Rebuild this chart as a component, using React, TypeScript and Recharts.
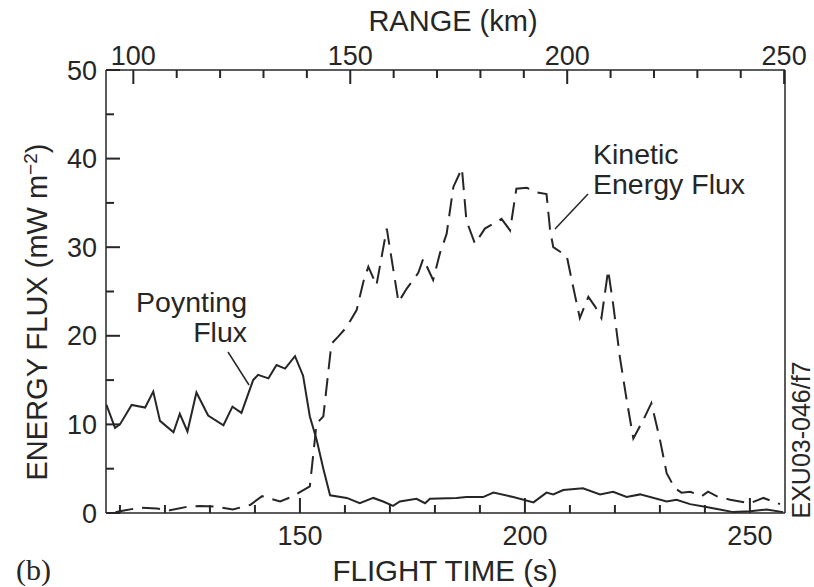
import * as React from 'react';
import { LineChart, Line, XAxis, YAxis, ReferenceLine } from 'recharts';

// Poynting flux (solid trace), flight time in s vs mW m^-2
const poyntingTime = [
  107, 108.9, 110, 112.6, 115.6, 117.4, 118.9, 121.9, 123.3, 125, 127, 129.6, 133, 135, 137,
  139.6, 140.7, 143, 144.8, 146.7, 148.9, 150.7, 152.2, 153.7, 155.2, 156.7, 160.4, 163.3,
  166.3, 168.5, 170.7, 172.2, 175.9, 177.8, 178.9, 184.8, 187, 190.7, 193, 197.4, 201.9,
  204.8, 206.3, 208.5, 212.9, 216.7, 219.6, 222.6, 225.6, 231.5, 233.7, 236.7, 240, 243.3,
  246.3, 250, 253.7, 257.4,
];
const poyntingFlux = [
  12.2, 9.6, 10.0, 12.2, 11.9, 13.7, 10.4, 9.1, 11.2, 9.2, 13.6, 11.0, 9.9, 12.0, 11.3,
  15.0, 15.6, 15.2, 16.7, 16.3, 17.7, 15.5, 10.9, 8.3, 5.0, 2.0, 1.7, 1.1,
  1.7, 1.3, 0.8, 1.3, 1.6, 1.1, 1.6, 1.7, 1.8, 1.8, 2.3, 1.8, 1.2,
  2.3, 2.1, 2.6, 2.8, 2.1, 2.4, 1.8, 2.1, 1.3, 1.5, 1.0, 0.7, 0.4,
  0.1, 0.2, 0.4, 0.1,
];

// Kinetic energy flux (dashed trace)
const kineticTime = [
  109, 110, 114.4, 118.2, 121.1, 124.9, 127.8, 131.6, 135.1, 138.9, 141.6, 145.6, 148.5,
  152.2, 153.7, 155.2, 157, 158.5, 160.4, 162.6, 164.1, 165.2, 167, 169.3, 171.9, 173.7,
  176.3, 177.4, 179.6, 181.1, 182.6, 184.1, 186, 187, 188.9, 191.1, 194.8, 196.7, 198.1,
  200.4, 202.6, 204.8, 205.6, 206.3, 209.3, 210.4, 212.2, 214.1, 215.6, 217, 218.5, 219.6,
  221.1, 222.6, 224.1, 226.3, 228.1, 230, 231.5, 233.3, 234.8, 236.7, 239.3, 240.7, 242.6,
  245.6, 250, 253, 256.7,
];
const kineticFlux = [
  0.1, 0.2, 0.6, 0.5, 0.3, 0.7, 0.8, 0.7, 0.4, 0.9, 1.9, 1.3, 1.9,
  3.0, 10.1, 10.9, 19.1, 19.9, 21.0, 22.9, 26.1, 27.8, 25.7, 32.1, 23.8, 25.3,
  27.1, 28.7, 26.3, 29.3, 31.5, 36.8, 38.9, 33.0, 30.4, 32.1, 33.2, 31.9, 36.6,
  36.7, 36.2, 36.0, 31.9, 30.0, 29.0, 26.3, 22.0, 24.4, 23.3, 22.0, 27.4, 23.6,
  17.6, 12.8, 8.4, 10.5, 12.4, 8.3, 4.5, 2.8, 2.3, 2.4, 1.9, 2.4, 1.9,
  1.5, 1.1, 1.7, 1.0,
];

const timeTicks = [110, 120, 130, 140, 150, 160, 170, 180, 190, 200, 210, 220, 230, 240, 250];
const timeLabels = [150, 200, 250];
const rangeTicks = [100, 110, 120, 130, 140, 150, 160, 170, 180, 190, 200, 210, 220, 230, 240, 250];
const rangeLabels = [100, 150, 200, 250];
const fluxTicks = [0, 5, 10, 15, 20, 25, 30, 35, 40, 45, 50];
const fluxLabels = [0, 10, 20, 30, 40, 50];

const poynting = poyntingTime.map((t, i) => ({ t, v: poyntingFlux[i] }));
const kinetic = kineticTime.map((t, i) => ({ t, v: kineticFlux[i] }));
// invisible series so the range axis and the right frame get a scale
const rangeAnchor = rangeTicks.map((t) => ({ t, v: 0 }));

const TIME_DOMAIN: [number, number] = [106.9, 257.8];
const RANGE_DOMAIN: [number, number] = [93.7, 250.2];
const FLUX_DOMAIN: [number, number] = [0, 50];

// chart box
const W = 814;
const H = 587;
const MARGIN = { top: 40, right: 28, bottom: 44, left: 46 };
const PLOT_W = W - MARGIN.left - MARGIN.right - 60 - 1;
const PLOT_H = H - MARGIN.top - MARGIN.bottom - 30 - 30;

// inward tick lengths (px) expressed in axis units
const secPerPx = (TIME_DOMAIN[1] - TIME_DOMAIN[0]) / PLOT_W;
const fluxPerPx = (FLUX_DOMAIN[1] - FLUX_DOMAIN[0]) / PLOT_H;
const MAJOR = 14;
const MINOR = 8;

const INK = '#262626';
const FONT = '"Liberation Sans", Arial, Helvetica, sans-serif';
const TICK_FONT = 27;
const TITLE_FONT = 29;
const NOTE_FONT = 28.5;

const axisStroke = { stroke: INK, strokeWidth: 1.5 };
const tickStroke = { stroke: INK, strokeWidth: 2 };

function BottomLabel(props: any) {
  const { x, y, payload } = props;
  if (!timeLabels.includes(payload.value)) return <g />;
  return (
    <text x={x} y={y + 32} textAnchor="middle" fontFamily={FONT} fontSize={TICK_FONT} fill={INK}>
      {payload.value}
    </text>
  );
}

function TopLabel(props: any) {
  const { x, y, payload } = props;
  if (!rangeLabels.includes(payload.value)) return <g />;
  return (
    <text x={x} y={y - 5} textAnchor="middle" fontFamily={FONT} fontSize={TICK_FONT} fill={INK}>
      {payload.value}
    </text>
  );
}

function LeftLabel(props: any) {
  const { x, y, payload } = props;
  if (!fluxLabels.includes(payload.value)) return <g />;
  return (
    <text x={x - 9} y={y + 9.5} textAnchor="end" fontFamily={FONT} fontSize={TICK_FONT} fill={INK}>
      {payload.value}
    </text>
  );
}

const txt = { fontFamily: FONT, fill: INK };

export default function App() {
  return (
    <div style={{ position: 'absolute', left: 0, top: 0, width: W, height: H, background: '#fff' }}>
      <LineChart width={W} height={H} margin={MARGIN}>
        <XAxis
          xAxisId="time"
          dataKey="t"
          type="number"
          domain={TIME_DOMAIN}
          allowDataOverflow
          ticks={timeTicks}
          interval={0}
          height={30}
          tickSize={0}
          tickMargin={0}
          tickLine={false}
          tick={<BottomLabel />}
          axisLine={axisStroke}
        />
        <XAxis
          xAxisId="range"
          dataKey="t"
          orientation="top"
          type="number"
          domain={RANGE_DOMAIN}
          allowDataOverflow
          ticks={rangeTicks}
          interval={0}
          height={30}
          tickSize={0}
          tickMargin={0}
          tickLine={false}
          tick={<TopLabel />}
          axisLine={axisStroke}
        />
        <YAxis
          yAxisId="flux"
          type="number"
          domain={FLUX_DOMAIN}
          ticks={fluxTicks}
          interval={0}
          width={60}
          tickSize={0}
          tickMargin={0}
          tickLine={false}
          tick={<LeftLabel />}
          axisLine={axisStroke}
        />
        <YAxis
          yAxisId="frame"
          orientation="right"
          type="number"
          domain={FLUX_DOMAIN}
          width={1}
          tick={false}
          tickLine={false}
          axisLine={axisStroke}
        />

        {/* inward tick marks */}
        {timeTicks.map((t) => (
          <ReferenceLine
            key={`bt${t}`}
            xAxisId="time"
            yAxisId="flux"
            ifOverflow="visible"
            segment={[
              { x: t, y: FLUX_DOMAIN[0] },
              { x: t, y: FLUX_DOMAIN[0] + (timeLabels.includes(t) ? MAJOR + 1 : MINOR) * fluxPerPx },
            ]}
            {...tickStroke}
          />
        ))}
        {rangeTicks.map((r) => (
          <ReferenceLine
            key={`tt${r}`}
            xAxisId="range"
            yAxisId="frame"
            ifOverflow="visible"
            segment={[
              { x: r, y: FLUX_DOMAIN[1] },
              { x: r, y: FLUX_DOMAIN[1] - (rangeLabels.includes(r) ? MAJOR : MINOR) * fluxPerPx },
            ]}
            {...tickStroke}
          />
        ))}
        {fluxTicks.map((f) => (
          <ReferenceLine
            key={`lt${f}`}
            xAxisId="time"
            yAxisId="flux"
            ifOverflow="visible"
            segment={[
              { x: TIME_DOMAIN[0], y: f },
              { x: TIME_DOMAIN[0] + (fluxLabels.includes(f) ? MAJOR : MINOR) * secPerPx, y: f },
            ]}
            {...tickStroke}
          />
        ))}

        <Line
          xAxisId="range"
          yAxisId="frame"
          data={rangeAnchor}
          dataKey="v"
          stroke="none"
          dot={false}
          activeDot={false}
          isAnimationActive={false}
        />
        <Line
          xAxisId="time"
          yAxisId="flux"
          data={poynting}
          dataKey="v"
          type="linear"
          stroke={INK}
          strokeWidth={2}
          dot={false}
          isAnimationActive={false}
        />
        <Line
          xAxisId="time"
          yAxisId="flux"
          data={kinetic}
          dataKey="v"
          type="linear"
          stroke={INK}
          strokeWidth={2}
          strokeDasharray="18 9"
          dot={false}
          isAnimationActive={false}
        />
      </LineChart>
      <svg
        width={W}
        height={H}
        style={{ position: 'absolute', left: 0, top: 0, pointerEvents: 'none' }}
      >
        <text x={453} y={31} textAnchor="middle" fontSize={TITLE_FONT} {...txt}>RANGE (km)</text>
        <text x={445} y={581} textAnchor="middle" fontSize={29.5} {...txt}>FLIGHT TIME (s)</text>
        <text x={16} y={580} fontSize={30} fontFamily='"Liberation Serif", "Times New Roman", serif' fill={INK}>(b)</text>
        <text
          transform="translate(47 312) rotate(-90)"
          textAnchor="middle"
          fontSize={TITLE_FONT}
          {...txt}
        >
          ENERGY FLUX (mW m<tspan dy={-10} fontSize={19}>−2</tspan><tspan dy={10}>)</tspan>
        </text>
        <text transform="translate(810 440) rotate(-90)" textAnchor="middle" fontSize={25} {...txt}>
          EXU03-046/f7
        </text>
        <text x={247} y={312} textAnchor="end" fontSize={NOTE_FONT} {...txt}>Poynting</text>
        <text x={247} y={342} textAnchor="end" fontSize={NOTE_FONT} {...txt}>Flux</text>
        <line x1={228} y1={352} x2={249} y2={385} stroke={INK} strokeWidth={1.5} />
        <text x={593} y={164} fontSize={NOTE_FONT} {...txt}>Kinetic</text>
        <text x={593} y={194} fontSize={NOTE_FONT} {...txt}>Energy Flux</text>
        <line x1={588} y1={194} x2={555} y2={229} stroke={INK} strokeWidth={1.5} />
      </svg>
    </div>
  );
}
